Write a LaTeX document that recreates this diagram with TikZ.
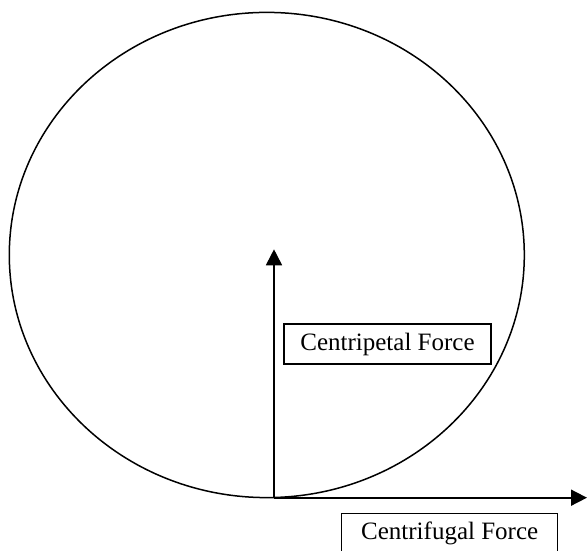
\documentclass[tikz,border=0pt]{standalone}
\usepackage{fontspec}
\setmainfont{Liberation Serif}
\usepackage{tikz}
\usetikzlibrary{arrows.meta}

\begin{document}
\begin{tikzpicture}[x=1pt, y=1pt, line width=1.5pt,
    forcebox/.style={draw, line width=1.2pt, inner sep=0pt, minimum height=40pt, font=\fontsize{25}{29}\selectfont},
    forcearrow/.style={-{Triangle[length=16pt, width=16pt]}, line width=1.7pt}]
                \useasboundingbox (0,0) rectangle (587,551);
                \clip (0,0) rectangle (587,551);
                \draw (266.8,296) ellipse [x radius=257.5, y radius=242.6];
                \coordinate (base) at (274,53.3);
                \coordinate (up) at (274,301.7);
                \coordinate (right) at (587,53.3);
                \draw[forcearrow] (base) -- (up);
                \draw[forcearrow] (base) -- (right);
                \node[forcebox, minimum width=207pt] (petal) at (387.5,207) {Centripetal Force};
                \node[forcebox, minimum width=216pt] (fugal) at (449.7,17.7) {Centrifugal Force};
            \end{tikzpicture}
\end{document}
